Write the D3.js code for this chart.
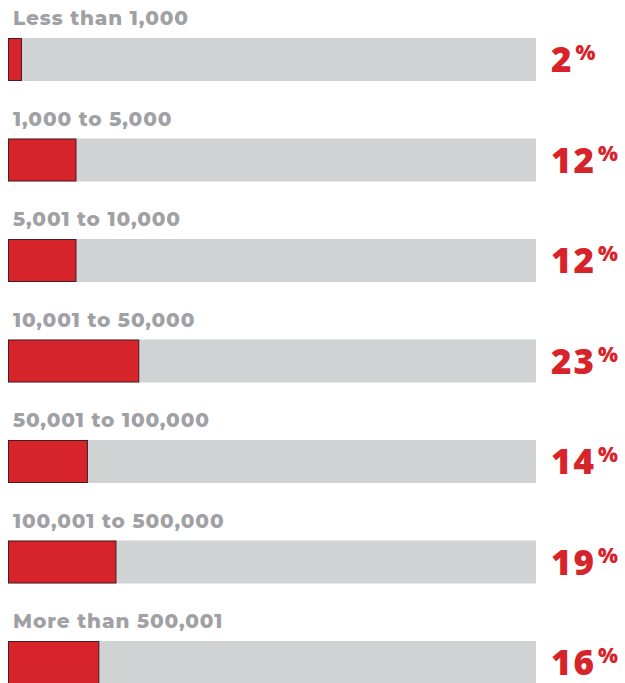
<!DOCTYPE html>
<html><head><meta charset="utf-8">
<script src="https://cdn.jsdelivr.net/npm/d3@7/dist/d3.min.js"></script>
<style>html,body{margin:0;padding:0;background:#fff;}svg{display:block;}</style>
</head><body>
<script>
const categories = ["Less than 1,000","1,000 to 5,000","5,001 to 10,000","10,001 to 50,000","50,001 to 100,000","100,001 to 500,000","More than 500,001"];
const values = [2,12,12,23,14,19,16];

const W = 625, H = 683;
const svg = d3.select("body").append("svg").attr("width", W).attr("height", H);

const x0 = 8, x1 = 536;
const x = d3.scaleLinear().domain([0, 92.5]).range([x0, x1]);
const y = d3.scaleBand().domain(categories).range([38, 38 + 7*100.5]).paddingInner(0).paddingOuter(0);
const barH = 43;

const g = svg.selectAll("g.row").data(categories.map((c,i)=>({c, v: values[i]}))).enter()
  .append("g").attr("class","row").attr("transform", d => `translate(0,${y(d.c)})`);

g.append("rect").attr("x", x0).attr("y", 0).attr("width", x1 - x0).attr("height", barH).attr("fill", "#d1d2d4");
g.append("rect").attr("x", x0 + 0.5).attr("y", 0.5)
  .attr("width", d => Math.max(x(d.v) - x0, 14) - 1).attr("height", barH - 1)
  .attr("fill", "#d7232a").attr("stroke", "#4a1c1e").attr("stroke-width", 1);

g.append("text").attr("x", 13).attr("y", -13).text(d => d.c)
  .attr("font-family", "Montserrat, 'Open Sans', sans-serif").attr("font-weight", 800)
  .attr("font-size", 20).attr("fill", "#9fa1a4").attr("letter-spacing", "0.9px");

const t = g.append("text").attr("x", 551).attr("y", 34)
  .attr("font-family", "'Open Sans', sans-serif").attr("font-weight", 800).attr("fill", "#d7232a");
t.append("tspan").attr("font-size", 35).attr("letter-spacing", "2px").text(d => d.v);
t.append("tspan").attr("font-size", 21).attr("dx", 2).attr("dy", -12).text("%");
</script>
</body></html>
